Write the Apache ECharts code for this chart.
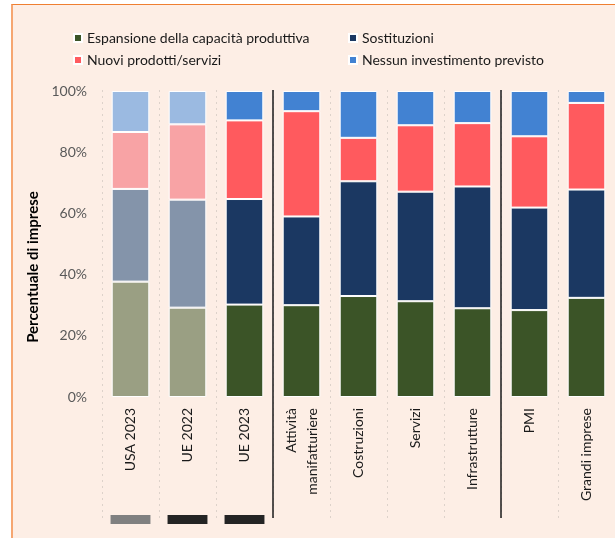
<!DOCTYPE html>
<html>
<head>
<meta charset="utf-8">
<script src="https://cdn.jsdelivr.net/npm/echarts@6/dist/echarts.min.js"></script>
<style>
  html, body { margin: 0; padding: 0; background: #ffffff; }
  #sfondo {
    position: absolute; left: 11px; top: 4px; width: 602px; height: 533px;
    background: #fdeee5; border-left: 2px solid #f6a671; border-top: 1px solid #ef7f31;
  }
  #grafico { position: absolute; left: 0; top: 0; width: 615px; height: 538px; }
</style>
</head>
<body>
<div id="sfondo"></div>
<div id="grafico"></div>
<script>
// categorie (asse x)
const categorie = ['USA 2023', 'UE 2022', 'UE 2023', 'Attività\nmanifatturiere', 'Costruzioni',
  'Servizi', 'Infrastrutture', 'PMI', 'Grandi imprese'];

// quote percentuali di imprese, per tipo di investimento
const espansione   = [37.7, 29.2, 30.2, 30.0, 33.0, 31.3, 29.0, 28.4, 32.4];
const sostituzioni = [30.3, 35.3, 34.5, 29.0, 37.5, 35.8, 39.8, 33.5, 35.4];
const nuovi        = [18.6, 24.6, 25.7, 34.4, 14.2, 21.7, 20.7, 23.3, 28.3];
const nessuno      = [13.4, 10.9,  9.6,  6.6, 15.3, 11.2, 10.5, 14.8,  3.9];

// categorie disegnate in colori attenuati
const attenuate = [0, 1];
// separatori tra i gruppi (tra le categorie 2|3 e 6|7)
const separatori = [2.5, 6.5];
// rettangolini sotto le etichette
const riquadri = [1, 1, 1, '-', '-', '-', '-', '-', '-'];
const coloriRiquadri = ['#808080', '#242424', '#242424'];

const font = 'Lato, "Open Sans", sans-serif';
let chart = echarts.init(document.getElementById('grafico'));

function serie(nome, valori, colore, coloreTenue) {
  return {
    name: nome,
    type: 'bar',
    stack: 'tot',
    barWidth: '66%',
    xAxisIndex: 0, yAxisIndex: 0,
    itemStyle: { color: colore, borderColor: '#ffffff', borderWidth: 1 },
    emphasis: { disabled: true },
    data: valori.map((v, i) => attenuate.indexOf(i) >= 0
      ? { value: v, itemStyle: { color: coloreTenue } } : v)
  };
}

chart.setOption({
  animation: false,
  backgroundColor: 'transparent',
  textStyle: { fontFamily: font },
  legend: [
    {
      data: ['Espansione della capacità produttiva', 'Nuovi prodotti/servizi'],
      orient: 'vertical', left: 68, top: 26,
      itemWidth: 8, itemHeight: 8, itemGap: 8, icon: 'rect',
      textStyle: { fontSize: 14, color: '#1a1a1a', fontFamily: font, lineHeight: 14 }
    },
    {
      data: ['Sostituzioni', 'Nessun investimento previsto'],
      orient: 'vertical', left: 343, top: 26,
      itemWidth: 8, itemHeight: 8, itemGap: 8, icon: 'rect',
      textStyle: { fontSize: 14, color: '#1a1a1a', fontFamily: font, lineHeight: 14 }
    }
  ],
  grid: [
    { left: 102, right: -4, top: 91, bottom: 141 },
    { left: 102, right: -4, top: 90, bottom: 20 },
    { left: 102, right: -4, top: 515, height: 9 }
  ],
  xAxis: [
    {
      type: 'category', gridIndex: 0, data: categorie,
      axisLine: { show: false }, axisTick: { show: false },
      axisLabel: { rotate: 90, margin: 11, fontSize: 14, color: '#1a1a1a',
        fontFamily: font, lineHeight: 21, interval: 0 }
    },
    {
      type: 'value', gridIndex: 1, min: -0.5, max: 8.5, interval: 1,
      axisLine: { show: false }, axisTick: { show: false }, axisLabel: { show: false },
      splitLine: { show: true, lineStyle: { color: '#ddd2ca', type: [2, 4], width: 1 } }
    },
    { type: 'category', gridIndex: 2, data: categorie, show: false }
  ],
  yAxis: [
    {
      type: 'value', gridIndex: 0, min: 0, max: 100, interval: 20,
      axisLine: { show: false }, axisTick: { show: false }, splitLine: { show: false },
      axisLabel: { formatter: '{value}%', fontSize: 14, color: '#595959', margin: 15, fontFamily: font },
      name: 'Percentuale di imprese', nameLocation: 'middle', nameGap: 60,
      nameTextStyle: { fontSize: 15, fontWeight: 'bold', color: '#000000', fontFamily: font,
        padding: [0, 46, 0, 0] }
    },
    { type: 'value', gridIndex: 1, min: 0, max: 1, show: false },
    { type: 'value', gridIndex: 2, min: 0, max: 1, show: false }
  ],
  series: [
    serie('Espansione della capacità produttiva', espansione, '#3b5427', '#9a9f83'),
    serie('Sostituzioni', sostituzioni, '#1b3862', '#8494aa'),
    serie('Nuovi prodotti/servizi', nuovi, '#ff5a5e', '#f8a3a5'),
    serie('Nessun investimento previsto', nessuno, '#4282d2', '#9bbae1'),
    {
      type: 'line', xAxisIndex: 1, yAxisIndex: 1, data: [], showSymbol: false, silent: true,
      markLine: {
        silent: true, symbol: 'none', label: { show: false },
        lineStyle: { color: '#1a1a1a', width: 1.5, type: 'solid' },
        data: separatori.map(x => ({ xAxis: x }))
      }
    },
    {
      type: 'bar', xAxisIndex: 2, yAxisIndex: 2, barWidth: '70%', silent: true,
      data: riquadri.map((v, i) => v === '-' ? v : { value: v, itemStyle: { color: coloriRiquadri[i] } })
    }
  ]
});

window.onresize = function () {
  chart.resize();
};
</script>
</body>
</html>
